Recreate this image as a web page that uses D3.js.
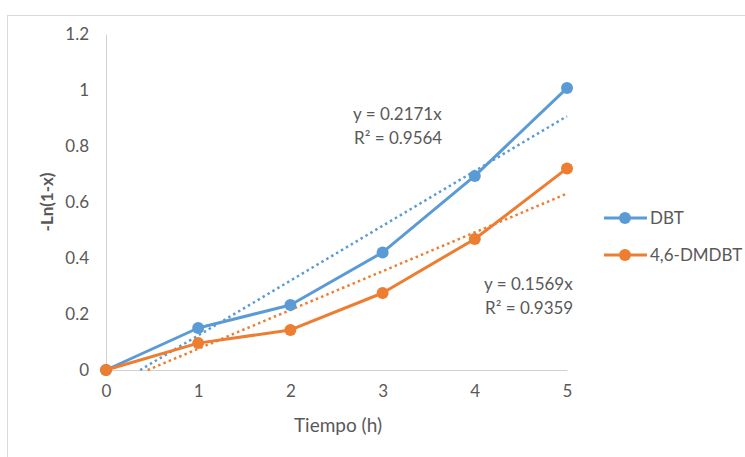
<!DOCTYPE html>
<html>
<head>
<meta charset="utf-8">
<script src="https://cdn.jsdelivr.net/npm/d3@7"></script>
<style>
  html, body { margin: 0; padding: 0; background: #fff; }
  svg { display: block; font-family: Lato, "Open Sans", sans-serif; }
</style>
</head>
<body>
<svg id="chart" width="745" height="457"></svg>
<script>
// Reaction time (h)
const hours = [0, 1, 2, 3, 4, 5];
// -Ln(1-x) for each compound
const dbt = [0, 0.150, 0.232, 0.420, 0.693, 1.007];
const dmdbt = [0, 0.096, 0.143, 0.275, 0.468, 0.720];
const seriesNames = ["DBT", "4,6-DMDBT"];
const seriesColors = ["#5B9BD5", "#ED7D31"];
const yTicks = [0, 0.2, 0.4, 0.6, 0.8, 1, 1.2];
const xTicks = [0, 1, 2, 3, 4, 5];
const fitLabels = [
  ["y = 0.2171x", "R² = 0.9564"],
  ["y = 0.1569x", "R² = 0.9359"]
];

const svg = d3.select("#chart");
const textColor = "#595959";
const fontFamily = "Lato, 'Open Sans', sans-serif";

// outer chart frame
svg.append("rect")
  .attr("x", 7.5).attr("y", 15.5)
  .attr("width", 760).attr("height", 460)
  .attr("fill", "none").attr("stroke", "#d9d9d9").attr("stroke-width", 1);

const x = d3.scaleLinear().domain([0, 5]).range([106, 567]);
const y = d3.scaleLinear().domain([0, 1.2]).range([370, 34]);

// y axis
const yAxis = svg.append("g").attr("transform", `translate(${x(0)},0)`)
  .call(d3.axisLeft(y).tickValues(yTicks).tickSize(0).tickPadding(17)
    .tickFormat(d => d3.format("~g")(d)));
yAxis.select(".domain").attr("stroke", "#d0d0d0").attr("stroke-width", 1);
yAxis.selectAll("text").attr("fill", textColor).style("font-size", "17px")
  .style("font-family", fontFamily);

// x axis
const xAxis = svg.append("g").attr("transform", `translate(0,${y(0)})`)
  .call(d3.axisBottom(x).tickValues(xTicks).tickSize(0).tickPadding(15)
    .tickFormat(d3.format("d")));
xAxis.select(".domain").attr("stroke", "#d0d0d0").attr("stroke-width", 1);
xAxis.selectAll("text").attr("fill", textColor).style("font-size", "17px")
  .style("font-family", fontFamily);

// axis titles
svg.append("text")
  .attr("transform", `translate(53,${y(0.6)}) rotate(-90)`)
  .attr("text-anchor", "middle")
  .attr("fill", textColor).style("font-size", "17px").style("font-weight", "bold")
  .text("-Ln(1-x)");
svg.append("text")
  .attr("x", 338).attr("y", 432)
  .attr("text-anchor", "middle")
  .attr("fill", textColor).style("font-size", "19px")
  .text("Tiempo (h)");

// least-squares linear trendline, drawn from where it crosses y = 0
function linearFit(xs, ys) {
  const n = xs.length;
  const mx = d3.mean(xs), my = d3.mean(ys);
  let sxy = 0, sxx = 0;
  for (let i = 0; i < n; i++) {
    sxy += (xs[i] - mx) * (ys[i] - my);
    sxx += (xs[i] - mx) * (xs[i] - mx);
  }
  const m = sxy / sxx;
  return { m, b: my - m * mx };
}

const allSeries = [dbt, dmdbt];

allSeries.forEach((vals, i) => {
  const fit = linearFit(hours, vals);
  const x0 = Math.max(0, -fit.b / fit.m);
  const x1 = d3.max(hours);
  svg.append("line")
    .attr("x1", x(x0)).attr("y1", y(fit.m * x0 + fit.b))
    .attr("x2", x(x1)).attr("y2", y(fit.m * x1 + fit.b))
    .attr("stroke", seriesColors[i]).attr("stroke-width", 2.5)
    .attr("stroke-dasharray", "2.5,3.2");
});

const line = d3.line().x((d, j) => x(hours[j])).y(d => y(d));

// series lines with round markers; the second series sits on top
allSeries.forEach((vals, i) => {
  svg.append("path").datum(vals)
    .attr("d", line)
    .attr("fill", "none").attr("stroke", seriesColors[i])
    .attr("stroke-width", 3).attr("stroke-linejoin", "round");
  svg.append("g").selectAll("circle").data(vals).join("circle")
    .attr("cx", (d, j) => x(hours[j])).attr("cy", d => y(d))
    .attr("r", 6).attr("fill", seriesColors[i]);
});

// trendline equations
const labelPos = [[353, 120], [484, 290]];
fitLabels.forEach((lines, i) => {
  const t = svg.append("text").attr("fill", textColor).style("font-size", "17px");
  lines.forEach((s, k) => {
    t.append("tspan").attr("x", labelPos[i][0] + (k === 1 ? 1 : 0))
      .attr("y", labelPos[i][1] + k * 24).text(s);
  });
});

// legend
const legend = svg.append("g");
seriesNames.forEach((name, i) => {
  const ly = 218 + i * 37;
  legend.append("line").attr("x1", 604).attr("x2", 647)
    .attr("y1", ly).attr("y2", ly)
    .attr("stroke", seriesColors[i]).attr("stroke-width", 3);
  legend.append("circle").attr("cx", 625).attr("cy", ly).attr("r", 6)
    .attr("fill", seriesColors[i]);
  legend.append("text").attr("x", 650).attr("y", ly + 6)
    .attr("fill", textColor).style("font-size", "17px").text(name);
});
</script>
</body>
</html>
